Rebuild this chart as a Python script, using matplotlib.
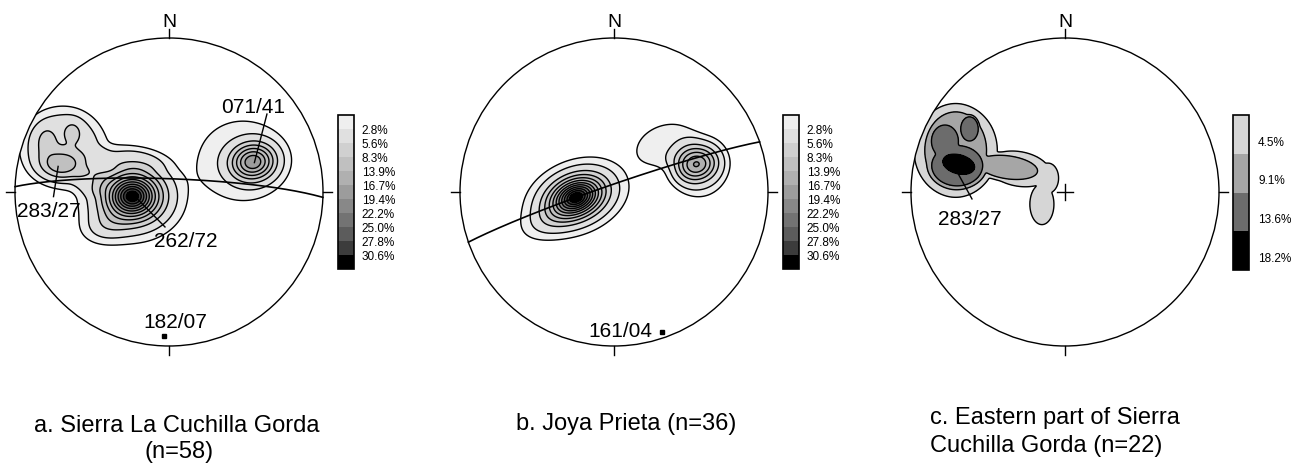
import numpy as np
import matplotlib
matplotlib.use("Agg")
import matplotlib.pyplot as plt
from matplotlib.patches import Circle
from matplotlib.colors import ListedColormap, BoundaryNorm
from matplotlib.cm import ScalarMappable

plt.rcParams['font.family'] = ['Liberation Sans', 'DejaVu Sans']

W, H = 1291, 464

# ---- panel a: Sierra La Cuchilla Gorda ----
a_levels = [1.2, 2.8, 5.6, 8.3, 13.9, 16.7, 19.4, 22.2, 25.0, 27.8, 30.6]
a_labels = ['2.8%', '5.6%', '8.3%', '13.9%', '16.7%', '19.4%', '22.2%', '25.0%', '27.8%', '30.6%']
a_colors = ['#efefef', '#e0e0e0', '#d0d0d0', '#c0c0c0', '#b0b0b0', '#9c9c9c',
            '#888888', '#737373', '#5c5c5c', '#3c3c3c', '#000000']
# density maxima: x, y (net units), peak %, spreads, tilt, kernel shape
a_bx = [-0.238, -0.41, -0.25, -0.50, 0.47, 0.545, -0.69, -0.70, -0.625, -0.80]
a_by = [-0.028, -0.22, 0.22, 0.07, 0.205, 0.195, 0.295, 0.18, 0.39, 0.33]
a_pk = [34.5, 3.0, 1.6, 1.6, 2.0, 17.0, 4.6, 6.5, 2.5, 2.5]
a_sx = [0.10, 0.10, 0.20, 0.10, 0.27, 0.095, 0.22, 0.09, 0.04, 0.045]
a_sy = [0.085, 0.07, 0.065, 0.08, 0.25, 0.078, 0.205, 0.06, 0.05, 0.065]
a_ang = [0, 10, -8, 0, 0, 8, 0, 0, 0, 0]
a_q = [1.5, 2, 4, 4, 4, 2, 4, 2, 2, 2]
a_gc_pole = '182/07'
a_notes = ['071/41', '262/72', '283/27']

# ---- panel b: Joya Prieta ----
b_levels = a_levels
b_labels = a_labels
b_colors = a_colors
b_bx = [-0.245, -0.40, 0.33, 0.56, 0.535]
b_by = [-0.034, -0.17, 0.31, 0.16, 0.18]
b_pk = [34.5, 2.5, 2.0, 2.0, 15.0]
b_sx = [0.10, 0.13, 0.18, 0.15, 0.09]
b_sy = [0.068, 0.07, 0.12, 0.17, 0.075]
b_ang = [22, 25, 20, 0, 15]
b_q = [1.5, 2, 4, 4, 2]
b_gc_pole = '161/04'

# ---- panel c: Eastern part of Sierra Cuchilla Gorda ----
c_levels = [4.5, 9.1, 13.6, 18.2]
c_labels = ['4.5%', '9.1%', '13.6%', '18.2%']
c_colors = ['#d6d6d6', '#a6a6a6', '#6c6c6c', '#000000']
c_bx = [-0.71, -0.30, -0.11, -0.15, -0.71, -0.37, -0.70, -0.62, -0.78, -0.69]
c_by = [0.27, 0.15, 0.09, -0.08, 0.27, 0.16, 0.17, 0.41, 0.33, 0.18]
c_pk = [6.8, 6.8, 6.8, 6.8, 11.4, 11.4, 15.9, 15.9, 15.9, 21.0]
c_sx = [0.277, 0.21, 0.07, 0.08, 0.221, 0.22, 0.19, 0.065, 0.10, 0.12]
c_sy = [0.31, 0.115, 0.10, 0.135, 0.276, 0.085, 0.15, 0.09, 0.12, 0.07]
c_ang = [0, -10, 0, 0, 0, -8, 0, 0, 0, -15]
c_q = [8, 8, 8, 8, 8, 6, 8, 8, 8, 8]
c_notes = ['283/27']

captions = [['a. Sierra La Cuchilla Gorda', '(n=58)'],
            ['b. Joya Prieta (n=36)'],
            ['c. Eastern part of Sierra', 'Cuchilla Gorda (n=22)']]


def project(trend, plunge):
    """Lower hemisphere equal-area (Schmidt) projection."""
    t = np.radians(trend)
    p = np.radians(plunge)
    r = np.sqrt(2) * np.sin(np.pi / 4 - p / 2)
    return r * np.sin(t), r * np.cos(t)


def parse(s):
    t, p = s.split('/')
    return float(t), float(p)


def great_circle(pole):
    t, p = np.radians(parse(pole))
    n = np.array([np.sin(t) * np.cos(p), np.cos(t) * np.cos(p), np.sin(p)])
    s = np.array([np.sin(t + np.pi / 2), np.cos(t + np.pi / 2), 0.0])
    d = np.cross(n, s)
    if d[2] < 0:
        d = -d
    th = np.linspace(0, np.pi, 200)
    v = np.outer(np.cos(th), s) + np.outer(np.sin(th), d)
    plunge = np.degrees(np.arcsin(np.clip(v[:, 2], -1, 1)))
    trend = np.degrees(np.arctan2(v[:, 0], v[:, 1]))
    return project(trend, plunge)


def density(gx, gy, bx, by, pk, sx, sy, ang, q, pw=1):
    total = np.zeros_like(gx)
    for x0, y0, p, s1, s2, a, k in zip(bx, by, pk, sx, sy, ang, q):
        c, s = np.cos(np.radians(a)), np.sin(np.radians(a))
        u = (gx - x0) * c + (gy - y0) * s
        v = -(gx - x0) * s + (gy - y0) * c
        d2 = (u / s1) ** 2 + (v / s2) ** 2
        total += (p * np.exp(-0.5 * d2 ** (k / 2))) ** pw
    return total ** (1 / pw)


fig = plt.figure(figsize=(W / 100, H / 100), dpi=100)
R = 154
EXT = 1.25


def net(cx, cy, field, levels, colors, pw=1, extra_lines=True, center_cross=False):
    ax = fig.add_axes([(cx - R * EXT) / W, 1 - (cy + R * EXT) / H,
                       2 * R * EXT / W, 2 * R * EXT / H])
    ax.set_xlim(-EXT, EXT)
    ax.set_ylim(-EXT, EXT)
    ax.axis('off')
    g = np.linspace(-1.02, 1.02, 600)
    gx, gy = np.meshgrid(g, g)
    z = density(gx, gy, *field, pw=pw)
    clip = Circle((0, 0), 1, transform=ax.transData)
    cf = ax.contourf(gx, gy, z, levels=list(levels) + [1000], colors=colors)
    cf.set_clip_path(clip)
    line_lv = list(levels)
    if extra_lines:
        line_lv.append(11.1)
        v = levels[-1] + 2.78
        while v < z.max():
            line_lv.append(v)
            v += 2.78
    cl = ax.contour(gx, gy, z, levels=sorted(line_lv), colors='black', linewidths=1.0)
    cl.set_clip_path(clip)
    ax.add_patch(Circle((0, 0), 1, fill=False, ec='black', lw=1.0, zorder=5))
    k = 0.06
    for dx, dy in [(0, 1), (0, -1), (1, 0), (-1, 0)]:
        ax.plot([dx, dx * (1 + k)], [dy, dy * (1 + k)], color='black', lw=1.0)
    ax.text(0, 1.107, 'N', ha='center', va='center', fontsize=14)
    if center_cross:
        ax.plot([-0.05, 0.05], [0, 0], color='black', lw=1.0, zorder=6)
        ax.plot([0, 0], [-0.05, 0.05], color='black', lw=1.0, zorder=6)
    return ax


def legend(x0, y0, x1, y1, colors, labels, at_edges=True, pad=5.5):
    cax = fig.add_axes([x0 / W, 1 - y1 / H, (x1 - x0) / W, (y1 - y0) / H])
    n = len(colors)
    norm = BoundaryNorm(np.arange(n + 1), n)
    cb = fig.colorbar(ScalarMappable(norm=norm, cmap=ListedColormap(colors)),
                      cax=cax, drawedges=True, boundaries=np.arange(n + 1))
    cb.outline.set_linewidth(1.2)
    cb.dividers.set_linewidth(1.2)
    cax.invert_yaxis()
    if at_edges:
        ticks = np.arange(1, n)
    else:
        ticks = np.arange(n) + 0.65
    cb.set_ticks(ticks)
    cb.set_ticklabels(labels)
    cax.tick_params(length=0, pad=pad, labelsize=8.5)
    cb.minorticks_off()
    return cax


fs = 15

# panel a
ax_a = net(169, 193, (a_bx, a_by, a_pk, a_sx, a_sy, a_ang, a_q), a_levels, a_colors)
gx, gy = great_circle(a_gc_pole)
ax_a.plot(gx, gy, color='black', lw=1.2, zorder=4)
px, py = project(*parse(a_gc_pole))
ax_a.plot(px, py, 's', color='black', ms=3.5, zorder=6)
ax_a.text(0.04, -0.844, a_gc_pole, ha='center', va='center', fontsize=fs)
ends = [(0.636, 0.506), (-0.026, -0.227), (-0.75, -0.03)]
texts = [(0.545, 0.558), (0.11, -0.318), (-0.78, -0.117)]
for lab, e, t in zip(a_notes, ends, texts):
    x, y = project(*parse(lab))
    ax_a.plot([x, e[0]], [y, e[1]], color='black', lw=1.0, zorder=6)
    ax_a.text(t[0], t[1], lab, ha='center', va='center', fontsize=fs, zorder=7)
legend(338, 116, 354, 270, a_colors, a_labels)

# panel b
ax_b = net(614, 193, (b_bx, b_by, b_pk, b_sx, b_sy, b_ang, b_q), b_levels, b_colors)
gx, gy = great_circle(b_gc_pole)
ax_b.plot(gx, gy, color='black', lw=1.2, zorder=4)
px, py = project(*parse(b_gc_pole))
ax_b.plot(px, py, 's', color='black', ms=3.5, zorder=6)
ax_b.text(0.04, -0.90, b_gc_pole, ha='center', va='center', fontsize=fs)
legend(783, 116, 799, 270, b_colors, b_labels)

# panel c
ax_c = net(1065, 193, (c_bx, c_by, c_pk, c_sx, c_sy, c_ang, c_q), c_levels, c_colors,
           pw=10, extra_lines=False, center_cross=True)
for lab in c_notes:
    x, y = project(*parse(lab))
    ax_c.plot([x, -0.604], [y, -0.045], color='black', lw=1.0, zorder=6)
    ax_c.text(-0.617, -0.175, lab, ha='center', va='center', fontsize=fs, zorder=7)
legend(1233, 116, 1249, 271, c_colors, c_labels, at_edges=False, pad=6.5)

# captions (one text per line)
cap_pos = [[(177, 415, 'center'), (179, 441, 'center')],
           [(626, 413, 'center')],
           [(930, 407, 'left'), (930, 435, 'left')]]
for lines, pos in zip(captions, cap_pos):
    for line, (x, y, ha) in zip(lines, pos):
        fig.text(x / W, 1 - y / H, line, ha=ha, va='top', fontsize=17)

fig.savefig('out.png', dpi=100)
